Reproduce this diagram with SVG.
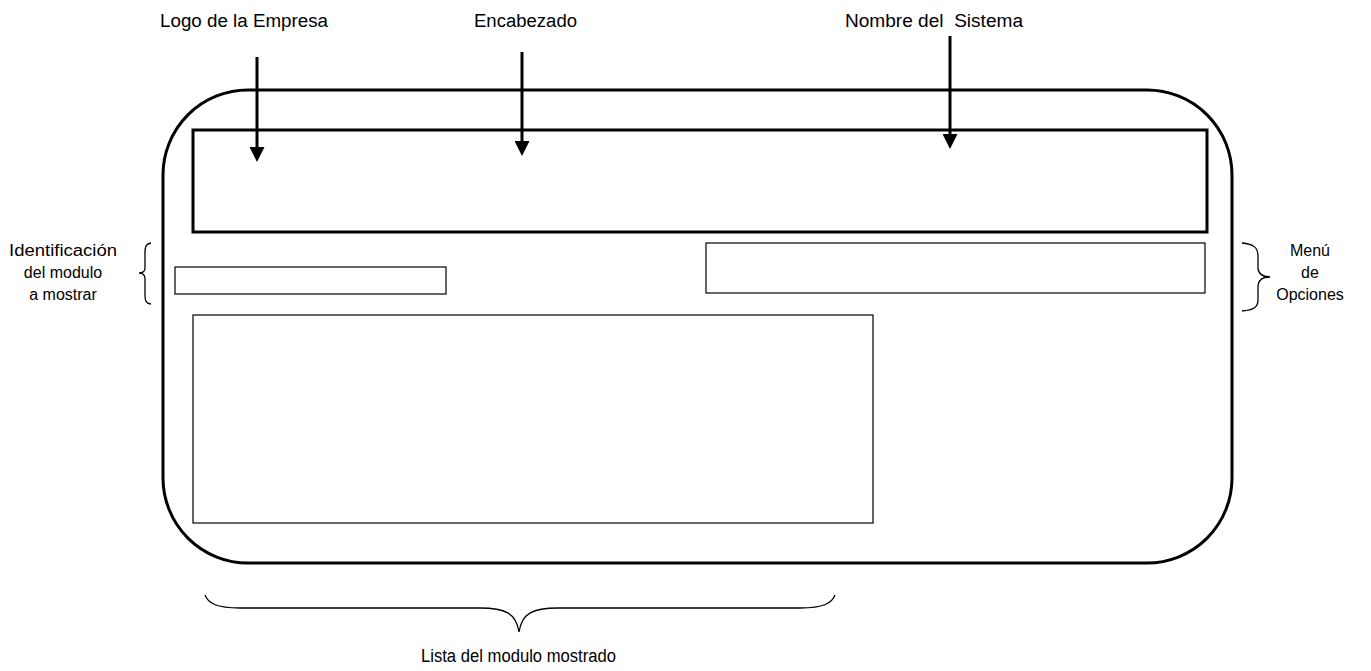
<svg xmlns="http://www.w3.org/2000/svg" width="1371" height="671" viewBox="0 0 1371 671">
<style>
text{font-family:"Liberation Sans",Arial,sans-serif;font-size:18px;fill:#000}
.s{font-size:16px}
.b{fill:none;stroke:#000}
.br{fill:none;stroke:#000;stroke-width:1.3}
.ar{stroke:#000;stroke-width:3;fill:none}
</style>
<defs>
<marker id="ah" markerWidth="6" markerHeight="5" refX="0" refY="2.5" orient="auto" markerUnits="strokeWidth">
<path d="M0,0 L5,2.5 L0,5 Z" fill="#000"/>
</marker>
</defs>
<rect width="1371" height="671" fill="#fff"/>
<g id="frame"><rect class="b" x="163" y="90" width="1069" height="473" rx="85" ry="85" stroke-width="3"/></g>
<g id="header"><rect class="b" x="193" y="130" width="1014" height="102" stroke-width="3"/></g>
<g id="modulo"><rect class="b" x="175" y="267" width="271" height="27" stroke-width="1.2"/></g>
<g id="menu"><rect class="b" x="706" y="243" width="499" height="50" stroke-width="1.2"/></g>
<g id="lista"><rect class="b" x="193" y="315" width="680" height="208" stroke-width="1.2"/></g>
<g id="connectors">
<line class="ar" x1="257" y1="57" x2="257" y2="147" marker-end="url(#ah)"/>
<line class="ar" x1="522" y1="52" x2="522" y2="141" marker-end="url(#ah)"/>
<line class="ar" x1="950" y1="36" x2="950" y2="134" marker-end="url(#ah)"/>
<path class="br" d="M151,243 C144,244 145,250 145,258 L145,268 C145,272 143,273 139,273 C143,273 145,275 145,279 L145,290 C145,298 144,303 151,304"/>
<path class="br" d="M1242,243 C1254,244 1258,248 1258,256 L1258,268 C1258,273 1262,277 1270,277 C1262,277 1258,281 1258,287 L1258,300 C1258,307 1254,310 1242,311"/>
<path class="br" d="M205,595 C208,603 216,608 240,608 L480,608 C505,608 516,613 519,632 C522,613 533,608 558,608 L800,608 C824,608 832,603 835,595"/>
</g>
<g id="labels">
<text x="160" y="27" textLength="168" lengthAdjust="spacingAndGlyphs">Logo de la Empresa</text>
<text x="474" y="27" textLength="103" lengthAdjust="spacingAndGlyphs">Encabezado</text>
<text x="845" y="27" textLength="178" lengthAdjust="spacingAndGlyphs" xml:space="preserve">Nombre del  Sistema</text>
<text class="s" x="9" y="256" textLength="108" lengthAdjust="spacingAndGlyphs">Identificación</text>
<text class="s" x="63" y="278" text-anchor="middle">del modulo</text>
<text class="s" x="63" y="300" text-anchor="middle">a mostrar</text>
<text class="s" x="1310" y="256" text-anchor="middle">Menú</text>
<text class="s" x="1310" y="278" text-anchor="middle">de</text>
<text class="s" x="1310" y="300" text-anchor="middle">Opciones</text>
<text x="421" y="662" textLength="195" lengthAdjust="spacingAndGlyphs">Lista del modulo mostrado</text>
</g>
</svg>
